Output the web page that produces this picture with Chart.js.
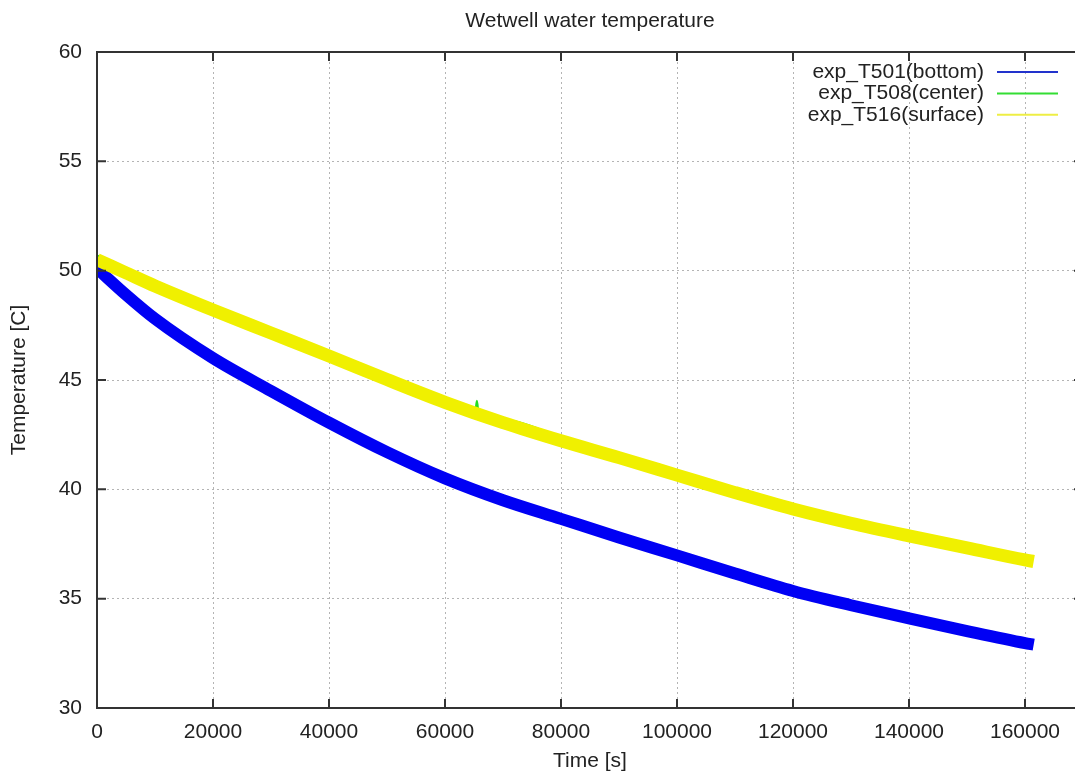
<!DOCTYPE html>
<html>
<head>
<meta charset="utf-8">
<title>Wetwell water temperature</title>
<script src="https://cdn.jsdelivr.net/npm/chart.js@4.4.0/dist/chart.umd.min.js"></script>
<style>
    html, body { margin: 0; padding: 0; background: #fff; overflow: hidden; }
    #wrap { width: 1090px; height: 774px; }
</style>
</head>
<body>
<div id="wrap"><canvas id="chart" width="1090" height="774"></canvas></div>
<script>
// time axis [s]
const times = [0, 5000, 10000, 20000, 30000, 40000, 50000, 60000, 70000, 80000, 90000,
    100000, 110000, 120000, 130000, 140000, 150000, 160000, 161500];

// exp_T501 (bottom)
const bottomTemp = [50.1, 48.9, 47.8, 46.0, 44.5, 43.05, 41.7, 40.5, 39.5, 38.65, 37.8,
    36.98, 36.15, 35.35, 34.7, 34.1, 33.52, 32.97, 32.9];

// exp_T516 (surface)
const surfaceTemp = [50.5, 49.9, 49.3, 48.2, 47.15, 46.1, 45.02, 43.98, 43.05, 42.22, 41.45,
    40.65, 39.85, 39.1, 38.45, 37.87, 37.32, 36.77, 36.7];

// exp_T508 (center) - own time list because of the short spike near 65500 s
const centerTimes = [0, 5000, 10000, 20000, 30000, 40000, 50000, 60000, 65200, 65500, 65800,
    70000, 80000, 90000, 100000, 110000, 120000, 130000, 140000, 150000, 160000, 161500];
const centerTemp = [50.7, 50.1, 49.5, 48.4, 47.35, 46.3, 45.22, 44.18, 43.55, 44.05, 43.5,
    43.2, 42.4, 41.62, 40.82, 40.02, 39.27, 38.62, 38.05, 37.5, 36.95, 36.88];

const seriesLabels = ['exp_T501(bottom)', 'exp_T508(center)', 'exp_T516(surface)'];
const xTicks = [0, 20000, 40000, 60000, 80000, 100000, 120000, 140000, 160000];
const yTicks = [30, 35, 40, 45, 50, 55, 60];

const FONT = "'Liberation Sans', Arial, Helvetica, sans-serif";
const FONT_SIZE = 21;
const INK = '#222';

const toPoints = (xs, ys) => xs.map((x, i) => ({ x: x, y: ys[i] }));

// gnuplot style frame with inward tick marks on all sides
const framePlugin = {
    id: 'frame',
    afterDatasetsDraw(chart) {
        const { ctx, chartArea: a, scales } = chart;
        ctx.save();
        ctx.strokeStyle = '#333';
        ctx.lineWidth = 2;
        ctx.beginPath();
        scales.x.ticks.forEach(t => {
            const px = scales.x.getPixelForValue(t.value);
            ctx.moveTo(px, a.bottom);
            ctx.lineTo(px, a.bottom - 9);
            ctx.moveTo(px, a.top);
            ctx.lineTo(px, a.top + 9);
        });
        scales.y.ticks.forEach(t => {
            const py = scales.y.getPixelForValue(t.value);
            ctx.moveTo(a.left, py);
            ctx.lineTo(a.left + 9, py);
            ctx.moveTo(a.right, py);
            ctx.lineTo(a.right - 9, py);
        });
        ctx.stroke();
        ctx.strokeRect(a.left, a.top, a.right - a.left, a.bottom - a.top);
        ctx.restore();
    }
};

// title over the plot centre, key in the top right corner
const keyPlugin = {
    id: 'key',
    afterDraw(chart) {
        const { ctx, chartArea: a } = chart;
        ctx.save();
        ctx.font = FONT_SIZE + 'px ' + FONT;
        ctx.fillStyle = INK;
        ctx.textAlign = 'center';
        ctx.textBaseline = 'middle';
        ctx.fillText('Wetwell water temperature', (a.left + a.right) / 2, 21);

        const textRight = 984;
        const lineFrom = 997, lineTo = 1058;
        const firstRow = 72, rowStep = 21.4;
        ctx.textAlign = 'right';
        chart.data.datasets.forEach((ds, i) => {
            const y = firstRow + i * rowStep;
            ctx.fillStyle = INK;
            ctx.fillText(ds.label, textRight, y);
            ctx.strokeStyle = ds.keyColor;
            ctx.lineWidth = 2;
            ctx.beginPath();
            ctx.moveTo(lineFrom, y);
            ctx.lineTo(lineTo, y);
            ctx.stroke();
        });
        ctx.restore();
    }
};

const ctx = document.getElementById('chart').getContext('2d');
new Chart(ctx, {
    type: 'line',
    data: {
        datasets: [
            {
                label: seriesLabels[0],
                data: toPoints(times, bottomTemp),
                borderColor: '#0000f4',
                keyColor: '#2233cc',
                borderWidth: 12,
                order: 3
            },
            {
                label: seriesLabels[1],
                data: toPoints(centerTimes, centerTemp),
                borderColor: '#22dd22',
                keyColor: '#33dd33',
                borderWidth: 2,
                order: 2
            },
            {
                label: seriesLabels[2],
                data: toPoints(times, surfaceTemp),
                borderColor: '#f0f000',
                keyColor: '#eeee44',
                borderWidth: 13,
                order: 1
            }
        ]
    },
    options: {
        responsive: false,
        animation: false,
        events: [],
        layout: { padding: { top: 52, right: 7, bottom: 0, left: 0 } },
        elements: {
            point: { radius: 0 },
            line: { cubicInterpolationMode: 'monotone', fill: false }
        },
        plugins: {
            legend: { display: false },
            tooltip: { enabled: false },
            title: { display: false }
        },
        scales: {
            x: {
                type: 'linear',
                min: 0,
                max: 170000,
                afterFit: (scale) => { scale.height = 66; },
                afterBuildTicks: (scale) => { scale.ticks = xTicks.map(v => ({ value: v })); },
                ticks: {
                    autoSkip: false,
                    maxRotation: 0,
                    padding: 12,
                    color: INK,
                    font: { family: FONT, size: FONT_SIZE },
                    callback: (v) => String(v)
                },
                grid: { color: '#b4b4b4', lineWidth: 1, drawTicks: false },
                border: { display: false, dash: [2, 3] },
                title: {
                    display: true,
                    text: 'Time [s]',
                    color: INK,
                    font: { family: FONT, size: FONT_SIZE },
                    padding: { top: 0, bottom: 0 }
                }
            },
            y: {
                type: 'linear',
                min: yTicks[0],
                max: yTicks[yTicks.length - 1],
                afterFit: (scale) => { scale.width = 97; },
                afterBuildTicks: (scale) => { scale.ticks = yTicks.map(v => ({ value: v })); },
                ticks: {
                    padding: 15,
                    color: INK,
                    font: { family: FONT, size: FONT_SIZE }
                },
                grid: { color: '#b4b4b4', lineWidth: 1, drawTicks: false },
                border: { display: false, dash: [2, 3] },
                title: {
                    display: true,
                    text: 'Temperature [C]',
                    color: INK,
                    font: { family: FONT, size: FONT_SIZE },
                    padding: { top: 7, bottom: 0 }
                }
            }
        }
    },
    plugins: [framePlugin, keyPlugin]
});
</script>
</body>
</html>
